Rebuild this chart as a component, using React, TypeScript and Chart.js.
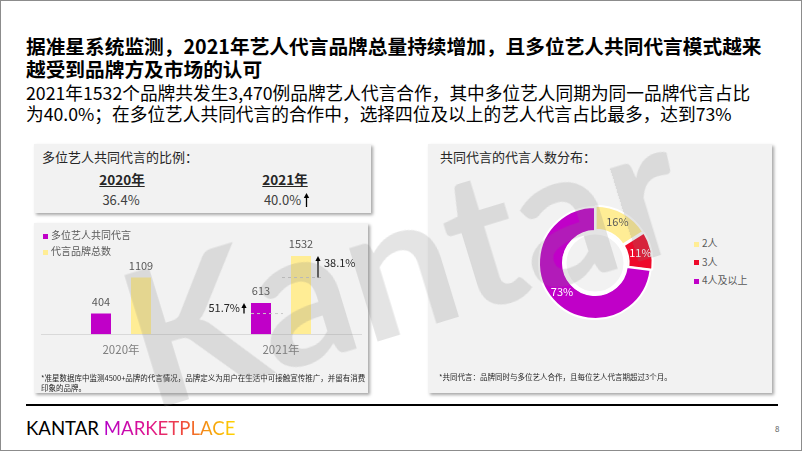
import React, { useEffect, useRef } from "react";
import { Chart, registerables } from "chart.js";
Chart.register(...registerables);

// ---------- data ----------
const years = ["2020年", "2021年"];
const barSeriesNames = ["多位艺人共同代言", "代言品牌总数"];
const multiArtist = [404, 613];
const totalBrands = [1109, 1532];
const growthLabels = ["51.7%", "38.1%"];
const shareYears = ["2020年", "2021年"];
const shareValues = ["36.4%", "40.0%"];
const donutLabels = ["2人", "3人", "4人及以上"];
const donutValues = [16, 11, 73];

const PURPLE = "#C000C8";
const YELLOW = "#FFED95";
const RED = "#EE0A2A";
const FONT = "'Noto Sans CJK SC', 'Noto Sans', sans-serif";

function drawArrow(ctx: CanvasRenderingContext2D, x: number, yFrom: number, yTo: number) {
  ctx.save();
  ctx.strokeStyle = "#000";
  ctx.fillStyle = "#000";
  ctx.lineWidth = 1.3;
  ctx.setLineDash([]);
  ctx.beginPath();
  ctx.moveTo(x, yFrom);
  ctx.lineTo(x, yTo + 4);
  ctx.stroke();
  ctx.beginPath();
  ctx.moveTo(x, yTo);
  ctx.lineTo(x - 2.6, yTo + 5);
  ctx.lineTo(x + 2.6, yTo + 5);
  ctx.closePath();
  ctx.fill();
  ctx.restore();
}

const barAnnot = {
  id: "barAnnot",
  afterDatasetsDraw(chart: any) {
    const ctx: CanvasRenderingContext2D = chart.ctx;
    const y = chart.scales.y;
    const m0 = chart.getDatasetMeta(0).data;
    const m1 = chart.getDatasetMeta(1).data;
    ctx.save();
    ctx.font = `11px ${FONT}`;
    ctx.fillStyle = "#595959";
    ctx.textAlign = "center";
    ctx.textBaseline = "middle";
    [m0, m1].forEach((bars: any[], di: number) =>
      bars.forEach((b: any, i: number) => {
        ctx.fillText(String(chart.data.datasets[di].data[i]), b.x, b.y - 12);
      })
    );
    const p1 = m0[1];
    const t1 = m1[1];
    const hp = p1.width / 2;
    const ht = t1.width / 2;
    const yPrev = y.getPixelForValue(multiArtist[0]);
    const yCur = y.getPixelForValue(multiArtist[1]);
    const yPrevT = y.getPixelForValue(totalBrands[0]);
    const yCurT = y.getPixelForValue(totalBrands[1]);
    ctx.setLineDash([3, 3]);
    ctx.strokeStyle = "#c8c8c8";
    ctx.lineWidth = 1;
    ctx.beginPath();
    ctx.moveTo(p1.x - hp, yPrev);
    ctx.lineTo(p1.x + hp + 12, yPrev);
    ctx.moveTo(t1.x - ht - 9, yPrevT);
    ctx.lineTo(t1.x + ht + 10, yPrevT);
    ctx.stroke();
    ctx.setLineDash([]);
    drawArrow(ctx, p1.x - hp - 7, yPrev, yCur);
    drawArrow(ctx, t1.x + ht + 7, yPrevT, yCurT);
    ctx.fillStyle = "#262626";
    ctx.textAlign = "right";
    ctx.fillText(growthLabels[0], p1.x - hp - 11, (yPrev + yCur) / 2);
    ctx.textAlign = "left";
    ctx.fillText(growthLabels[1], t1.x + ht + 13, yCurT + 7);
    ctx.restore();
  },
};

const donutPlugin = {
  id: "donutAnnot",
  afterDatasetsDraw(chart: any) {
    const ctx: CanvasRenderingContext2D = chart.ctx;
    const meta = chart.getDatasetMeta(0);
    const base = meta.data[2];
    ctx.save();
    ctx.beginPath();
    ctx.arc(base.x, base.y, base.innerRadius - 1.5, 0, Math.PI * 2);
    ctx.strokeStyle = "#ffffff";
    ctx.lineWidth = 4;
    ctx.stroke();
    const colors = ["#595959", "#ffffff", "#ffffff"];
    ctx.font = `11px ${FONT}`;
    ctx.textAlign = "center";
    ctx.textBaseline = "middle";
    meta.data.forEach((arc: any, i: number) => {
      const p = arc.tooltipPosition();
      ctx.fillStyle = colors[i];
      ctx.fillText(donutValues[i] + "%", p.x, p.y);
    });
    ctx.restore();
  },
};

function T(props: { x: number; y: number; size: number; children: any; style?: any; center?: boolean; w?: number }) {
  const lh = Math.round(props.size * 1.35);
  const st: any = {
    position: "absolute",
    top: props.y - lh / 2,
    fontSize: props.size,
    lineHeight: lh + "px",
    whiteSpace: "nowrap",
    fontFamily: FONT,
    ...(props.style || {}),
  };
  if (props.center) {
    st.left = props.x - (props.w || 200) / 2;
    st.width = props.w || 200;
    st.textAlign = "center";
  } else {
    st.left = props.x;
  }
  return <div style={st}>{props.children}</div>;
}

const boxStyle = (l: number, t: number, r: number, b: number): any => ({
  position: "absolute",
  left: l,
  top: t,
  width: r - l,
  height: b - t,
  background: "#f2f2f2",
  boxShadow: "2px 2px 3px rgba(0,0,0,0.35)",
});

function UpArrow() {
  return (
    <svg width="7" height="14" viewBox="0 0 7 14" style={{ marginLeft: 2, marginBottom: 1 }}>
      <line x1="3.5" y1="4" x2="3.5" y2="14" stroke="#000" strokeWidth="1.3" />
      <polygon points="3.5,0 0.8,5 6.2,5" fill="#000" />
    </svg>
  );
}

export default function App() {
  const barRef = useRef<HTMLCanvasElement>(null);
  const donutRef = useRef<HTMLCanvasElement>(null);

  useEffect(() => {
    document.body.style.margin = "0";
    const bar = new Chart(barRef.current as HTMLCanvasElement, {
      type: "bar",
      data: {
        labels: years,
        datasets: [
          { label: barSeriesNames[0], data: multiArtist, backgroundColor: PURPLE, categoryPercentage: 0.5, barPercentage: 0.5 },
          { label: barSeriesNames[1], data: totalBrands, backgroundColor: YELLOW, categoryPercentage: 0.5, barPercentage: 0.5 },
        ],
      },
      options: {
        responsive: false,
        animation: false,
        layout: { padding: { left: 7, right: 7, top: 9, bottom: 27 } },
        plugins: { legend: { display: false }, tooltip: { enabled: false } },
        scales: {
          x: {
            grid: { display: false, drawTicks: false },
            border: { display: true, color: "#d9d9d9", width: 1 },
            ticks: { font: { size: 11.5, family: FONT }, color: "#7f7f7f", padding: 9 },
          },
          y: { display: false, min: 0, max: 2000 },
        },
      } as any,
      plugins: [barAnnot],
    });
    const donut = new Chart(donutRef.current as HTMLCanvasElement, {
      type: "doughnut",
      data: {
        labels: donutLabels,
        datasets: [
          {
            data: donutValues,
            backgroundColor: [YELLOW, RED, PURPLE],
            borderColor: "#ffffff",
            borderWidth: 2,
            offset: [5, 5, 0],
          } as any,
        ],
      },
      options: {
        responsive: false,
        animation: false,
        radius: 56,
        cutout: 38,
        plugins: { legend: { display: false }, tooltip: { enabled: false } },
      } as any,
      plugins: [donutPlugin],
    });
    return () => {
      bar.destroy();
      donut.destroy();
    };
  }, []);

  const legendSq = (c: string): any => ({ display: "inline-block", width: 5, height: 5, background: c, marginRight: 3, verticalAlign: "middle" });

  return (
    <div
      style={{
        position: "absolute",
        left: 0,
        top: 0,
        width: 802,
        height: 451,
        boxSizing: "border-box",
        border: "1px solid #8c8c8c",
        background: "#fff",
        overflow: "hidden",
        fontFamily: FONT,
        color: "#000",
      }}
    >
      {/* Title */}
      <div style={{ position: "absolute", left: 25, top: 33, fontSize: 19.7, fontWeight: 700, lineHeight: "23px", whiteSpace: "nowrap", color: "#000" }}>
        据准星系统监测，2021年艺人代言品牌总量持续增加，且多位艺人共同代言模式越来
        <br />
        越受到品牌方及市场的认可
      </div>
      <div style={{ position: "absolute", left: 25, top: 81, fontSize: 17.7, lineHeight: "21px", whiteSpace: "nowrap", color: "#000" }}>
        2021年1532个品牌共发生3,470例品牌艺人代言合作，其中多位艺人同期为同一品牌代言占比
        <br />
        为40.0%；在多位艺人共同代言的合作中，选择四位及以上的艺人代言占比最多，达到73%
      </div>

      {/* Left top box */}
      <div style={boxStyle(33, 143, 370, 212)} />
      <T x={41} y={156} size={13} style={{ color: "#262626" }}>多位艺人共同代言的比例：</T>
      <T x={121} y={178} size={13.5} center w={100} style={{ fontWeight: 700, textDecoration: "underline", color: "#262626" }}>{shareYears[0]}</T>
      <T x={284} y={178} size={13.5} center w={100} style={{ fontWeight: 700, textDecoration: "underline", color: "#262626" }}>{shareYears[1]}</T>
      <T x={120} y={199} size={13} center w={100} style={{ color: "#404040" }}>{shareValues[0]}</T>
      <div style={{ position: "absolute", left: 236, top: 190, width: 100, display: "flex", justifyContent: "center", alignItems: "flex-end", fontSize: 13, lineHeight: "17px", color: "#404040" }}>
        <span>{shareValues[1]}</span>
        <UpArrow />
      </div>

      {/* Left bottom box */}
      <div style={boxStyle(33, 222, 367, 392)} />
      <canvas ref={barRef} width={334} height={170} style={{ position: "absolute", left: 33, top: 222, width: 334, height: 170 }} />
      <T x={42} y={234} size={10} style={{ color: "#595959" }}>
        <span style={legendSq(PURPLE)} />
        {barSeriesNames[0]}
      </T>
      <T x={42} y={250} size={10} style={{ color: "#595959" }}>
        <span style={legendSq(YELLOW)} />
        {barSeriesNames[1]}
      </T>
      <div style={{ position: "absolute", left: 40, top: 372, fontSize: 7.5, lineHeight: "10px", color: "#262626", whiteSpace: "nowrap" }}>
        *准星数据库中监测4500+品牌的代言情况，品牌定义为用户在生活中可接触宣传推广，并留有消费
        <br />
        印象的品牌。
      </div>

      {/* Right box */}
      <div style={boxStyle(427, 143, 771, 392)} />
      <T x={439} y={156} size={13} style={{ color: "#262626" }}>共同代言的代言人数分布：</T>
      <canvas ref={donutRef} width={140} height={140} style={{ position: "absolute", left: 524, top: 192, width: 140, height: 140 }} />
      {donutLabels.map((l, i) => (
        <T key={l} x={693} y={242 + i * 18.5} size={10} style={{ color: "#595959" }}>
          <span style={legendSq([YELLOW, RED, PURPLE][i])} />
          {l}
        </T>
      ))}
      <T x={438} y={375.5} size={7.5} style={{ color: "#262626" }}>*共同代言：品牌同时与多位艺人合作，且每位艺人代言期超过3个月。</T>

      {/* Footer */}
      <div style={{ position: "absolute", left: 25, top: 403, width: 752, height: 2, background: "#000" }} />
      <div style={{ position: "absolute", left: 25, top: 416, fontSize: 18.6, lineHeight: "22px", fontFamily: "Lato, 'Noto Sans', sans-serif", whiteSpace: "nowrap" }}>
        <span style={{ color: "#000" }}>KANTAR </span>
        <span
          style={{
            background: "linear-gradient(90deg, #b400c8 0%, #e0148c 35%, #f04a3c 60%, #f59a10 80%, #ffd400 100%)",
            WebkitBackgroundClip: "text",
            backgroundClip: "text",
            color: "transparent",
          }}
        >
          MARKETPLACE
        </span>
      </div>
      <T x={774} y={427} size={8} style={{ color: "#595959" }}>8</T>

      {/* Watermark */}
      <div
        style={{
          position: "absolute",
          left: 400,
          top: 256,
          transform: "translate(-50%, -50%) rotate(-17deg)",
          fontFamily: "Lato, 'Open Sans', sans-serif",
          fontWeight: 700,
          fontSize: 190,
          lineHeight: "190px",
          color: "rgba(128,128,128,0.21)",
          whiteSpace: "nowrap",
          pointerEvents: "none",
        }}
      >
        Kantar
      </div>
    </div>
  );
}
